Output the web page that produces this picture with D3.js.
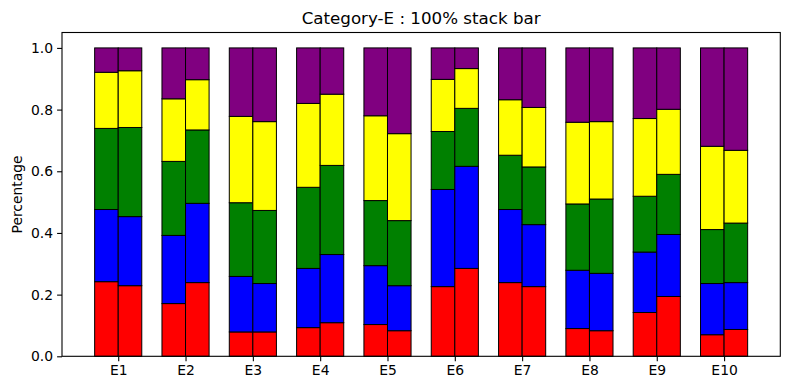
<!DOCTYPE html>
<html>
<head>
<meta charset="utf-8">
<script src="https://cdn.jsdelivr.net/npm/d3@7"></script>
<style>
  html, body { margin: 0; padding: 0; background: #fff; }
  svg { display: block; font-family: "DejaVu Sans", sans-serif; }
</style>
</head>
<body>
<svg id="chart" width="790" height="390"></svg>
<script>
// ---- data ----
const categories = ["E1","E2","E3","E4","E5","E6","E7","E8","E9","E10"];
const seriesNames = ["s1","s2","s3","s4","s5"];
const seriesColors = ["red","blue","green","yellow","purple"];
// left bar of each pair
const barA_s1 = [0.242, 0.171, 0.079, 0.093, 0.103, 0.226, 0.239, 0.090, 0.142, 0.070];
const barA_s2 = [0.234, 0.221, 0.180, 0.192, 0.191, 0.315, 0.237, 0.189, 0.196, 0.166];
const barA_s3 = [0.263, 0.240, 0.239, 0.263, 0.211, 0.188, 0.176, 0.215, 0.181, 0.175];
const barA_s4 = [0.182, 0.203, 0.280, 0.272, 0.275, 0.169, 0.180, 0.265, 0.252, 0.270];
const barA_s5 = [0.079, 0.165, 0.222, 0.180, 0.220, 0.102, 0.168, 0.241, 0.229, 0.319];
// right bar of each pair
const barB_s1 = [0.229, 0.239, 0.079, 0.109, 0.083, 0.285, 0.226, 0.083, 0.194, 0.087];
const barB_s2 = [0.224, 0.257, 0.157, 0.221, 0.146, 0.331, 0.201, 0.186, 0.201, 0.152];
const barB_s3 = [0.289, 0.238, 0.237, 0.289, 0.211, 0.188, 0.187, 0.241, 0.195, 0.193];
const barB_s4 = [0.184, 0.163, 0.288, 0.231, 0.282, 0.129, 0.193, 0.251, 0.211, 0.236];
const barB_s5 = [0.074, 0.103, 0.239, 0.150, 0.278, 0.067, 0.193, 0.239, 0.199, 0.332];
const yTicks = [0.0, 0.2, 0.4, 0.6, 0.8, 1.0];
const titleText = "Category-E : 100% stack bar";
const yLabelText = "Percentage";

// ---- layout ----
const mLeft = 62, mRight = 780.3, mTop = 32.5, mBottom = 356.3;
const barW = 0.35;

const svg = d3.select("#chart");

const x = d3.scaleLinear().domain([-0.835, categories.length - 1 + 0.835]).range([mLeft, mRight]);
const y = d3.scaleLinear().domain([0, 1.05]).range([mBottom, mTop]);

function buildRows(arrs) {
  return categories.map((c, i) => {
    const row = { cat: c, idx: i };
    const total = d3.sum(arrs, a => a[i]);
    seriesNames.forEach((s, k) => row[s] = arrs[k][i] / total);
    return row;
  });
}
const rowsA = buildRows([barA_s1, barA_s2, barA_s3, barA_s4, barA_s5]);
const rowsB = buildRows([barB_s1, barB_s2, barB_s3, barB_s4, barB_s5]);

const stack = d3.stack().keys(seriesNames);
const stackedA = stack(rowsA);
const stackedB = stack(rowsB);

const plot = svg.append("g");

function drawBars(stacked, offset) {
  stacked.forEach((layer, k) => {
    plot.append("g").selectAll("rect")
      .data(layer)
      .join("rect")
      .attr("x", d => x(d.data.idx + offset))
      .attr("width", d => x(barW) - x(0))
      .attr("y", d => y(d[1]))
      .attr("height", d => y(d[0]) - y(d[1]))
      .attr("fill", seriesColors[k])
      .attr("stroke", "black")
      .attr("stroke-width", 1);
  });
}
drawBars(stackedA, -barW);
drawBars(stackedB, 0);

// axes
const yAxis = d3.axisLeft(y).tickValues(yTicks).tickFormat(d3.format(".1f")).tickSize(4.9).tickPadding(4);
const gy = svg.append("g").attr("transform", `translate(${mLeft},0)`).call(yAxis);
const xAxis = d3.axisBottom(x).tickValues(d3.range(categories.length)).tickFormat(i => categories[i]).tickSize(4.9).tickPadding(4);
const gx = svg.append("g").attr("transform", `translate(0,${mBottom})`).call(xAxis);
[gx, gy].forEach(g => {
  g.select(".domain").remove();
  g.selectAll("line").attr("stroke", "black").attr("stroke-width", 1.1);
  g.selectAll("text").attr("fill", "black").style("font-size", "13.9px").style("font-family", "'DejaVu Sans', sans-serif");
});

// frame
svg.append("rect")
  .attr("x", mLeft).attr("y", mTop)
  .attr("width", mRight - mLeft).attr("height", mBottom - mTop)
  .attr("fill", "none").attr("stroke", "black").attr("stroke-width", 1.1);

// title
svg.append("text")
  .attr("x", (mLeft + mRight) / 2).attr("y", 24.2)
  .attr("text-anchor", "middle")
  .style("font-size", "16.7px")
  .attr("fill", "black")
  .text(titleText);

// y label
svg.append("text")
  .attr("transform", `translate(22,${(mTop + mBottom) / 2}) rotate(-90)`)
  .attr("text-anchor", "middle")
  .style("font-size", "13.9px")
  .attr("fill", "black")
  .text(yLabelText);
</script>
</body>
</html>
